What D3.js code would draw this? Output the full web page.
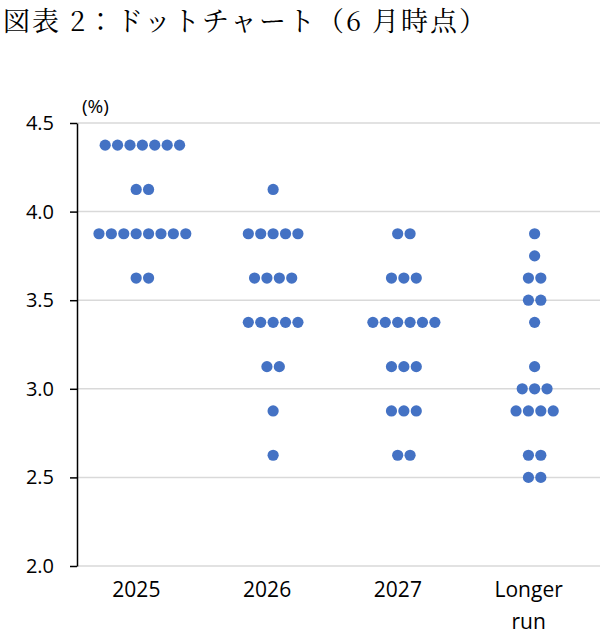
<!DOCTYPE html>
<html>
<head>
<meta charset="utf-8">
<script src="https://cdn.jsdelivr.net/npm/d3@7"></script>
<style>
  body { margin: 0; background: #fff; }
  svg text { fill: #000; }
</style>
</head>
<body>
<div id="chart"></div>
<script>
// categories and dot plot values (rate level, number of participants)
var categories = ["2025", "2026", "2027", "Longer run"];
var rates2025 = [4.375, 4.125, 3.875, 3.625];
var counts2025 = [7, 2, 8, 2];
var rates2026 = [4.125, 3.875, 3.625, 3.375, 3.125, 2.875, 2.625];
var counts2026 = [1, 5, 4, 5, 2, 1, 1];
var rates2027 = [3.875, 3.625, 3.375, 3.125, 2.875, 2.625];
var counts2027 = [2, 3, 6, 3, 3, 2];
var ratesLonger = [3.875, 3.75, 3.625, 3.5, 3.375, 3.125, 3.0, 2.875, 2.625, 2.5];
var countsLonger = [1, 1, 2, 2, 1, 1, 3, 4, 2, 2];
var yTicks = [2.0, 2.5, 3.0, 3.5, 4.0, 4.5];

var title = "図表 2：ドットチャート（6 月時点）";

var W = 612, H = 638;
var margin = { top: 123, right: 12, bottom: 72, left: 77 };
var width = W - margin.left - margin.right;
var height = H - margin.top - margin.bottom;

var svg = d3.select("#chart").append("svg")
    .attr("width", W)
    .attr("height", H);

// title
svg.append("text")
    .attr("x", 3)
    .attr("y", 31)
    .style("font-family", "'Noto Serif CJK JP', 'Noto Sans CJK JP', serif")
    .style("font-size", "27px")
    .style("letter-spacing", "2px")
    .text(title);

var g = svg.append("g")
    .attr("transform", "translate(" + margin.left + "," + margin.top + ")");

var x = d3.scaleBand().domain(categories).range([0, width]);
var y = d3.scaleLinear().domain([2.0, 4.5]).range([height, 0]);

// gridlines
g.selectAll(".grid").data(yTicks).enter().append("line")
    .attr("x1", 0).attr("x2", width)
    .attr("y1", function (d) { return y(d); })
    .attr("y2", function (d) { return y(d); })
    .style("stroke", "#d9d9d9")
    .style("stroke-width", 1.5);

// y axis
var yAxis = d3.axisLeft(y).tickValues(yTicks).tickFormat(d3.format(".1f")).tickSize(7).tickSizeOuter(0);
var ya = g.append("g").call(yAxis);
ya.select(".domain").style("stroke", "#000").style("stroke-width", 1.5);
ya.selectAll(".tick line").style("stroke", "#000").style("stroke-width", 1.5);
ya.selectAll("text")
    .attr("x", -23)
    .style("font-family", "'Open Sans', sans-serif")
    .style("font-size", "20px");

// unit label
g.append("text")
    .attr("x", 5)
    .attr("y", -10)
    .style("font-family", "'Open Sans', sans-serif")
    .style("font-size", "19px")
    .text("(%)");

// x labels
var xl = g.selectAll(".xl").data(categories).enter().append("text")
    .attr("x", function (d) { return x(d) + x.bandwidth() / 2 - 6; })
    .attr("y", height + 31)
    .attr("text-anchor", "middle")
    .style("font-family", "'Open Sans', sans-serif")
    .style("font-size", "21px");
xl.each(function (d) {
    var parts = d.split(" ");
    var t = d3.select(this);
    parts.forEach(function (p, i) {
        t.append("tspan")
            .attr("x", x(d) + x.bandwidth() / 2 - 6)
            .attr("dy", i == 0 ? 0 : 32)
            .text(p);
    });
});

// dots
var series = [
    [rates2025, counts2025],
    [rates2026, counts2026],
    [rates2027, counts2027],
    [ratesLonger, countsLonger]
];
var spacing = 12.4;
var dots = [];
series.forEach(function (s, ci) {
    s[0].forEach(function (r, ri) {
        var n = s[1][ri];
        for (var i = 0; i < n; i++) {
            dots.push({ cat: categories[ci], rate: r, off: (i - (n - 1) / 2) * spacing });
        }
    });
});

g.selectAll(".dot").data(dots).enter().append("circle")
    .attr("cx", function (d) { return x(d.cat) + x.bandwidth() / 2 + d.off; })
    .attr("cy", function (d) { return y(d.rate); })
    .attr("r", 5.6)
    .style("fill", "#4472c4");
</script>
</body>
</html>
